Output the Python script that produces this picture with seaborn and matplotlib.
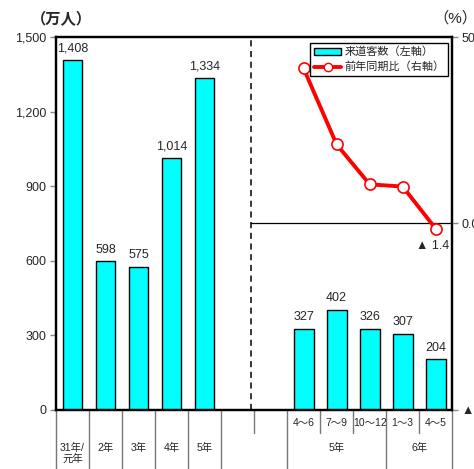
import matplotlib
matplotlib.use("Agg")
import matplotlib.pyplot as plt
import matplotlib.transforms as mtransforms
from matplotlib.lines import Line2D
from matplotlib.patches import Patch
import numpy as np
import pandas as pd
import seaborn as sns

sns.set_theme(style="white")
plt.rcParams["font.family"] = ["Liberation Sans", "Noto Sans CJK JP"]

# Visitors (10k persons): annual totals, then quarterly figures
slot_pos = [0, 1, 2, 3, 4, 7, 8, 9, 10, 11]
visitors = [1408, 598, 575, 1014, 1334, 327, 402, 326, 307, 204]
bar_labels = ["1,408", "598", "575", "1,014", "1,334", "327", "402", "326", "307", "204"]

# Year-on-year change (%) for the quarterly figures
line_pos = [7, 8, 9, 10, 11]
yoy_pct = [41.6, 21.2, 10.5, 9.9, -1.4]

sub_labels = ["4～6", "7～9", "10～12", "1～3", "4～5"]
year_labels = ["31年/\n元年", "2年", "3年", "4年", "5年"]
group_labels = ["5年", "6年"]

left_ticks = [0, 300, 600, 900, 1200, 1500]
left_ticklabels = ["0", "300", "600", "900", "1,200", "1,500"]
right_ticks = [-50, 0, 50]
right_ticklabels = ["▲50", "0.0", "50"]

fig = plt.figure(figsize=(4.74, 4.69), dpi=100)
ax = fig.add_axes([0.118, 0.126, 0.836, 0.795])

df = pd.DataFrame({"pos": slot_pos, "visitors": visitors})
sns.barplot(data=df, x="pos", y="visitors", native_scale=True, width=0.6,
            color="#00FFFF", edgecolor="black", linewidth=1.0, saturation=1,
            ax=ax, zorder=2)

ax.set_xlim(-0.5, 11.5)
ax.set_ylim(0, 1500)
ax.set_yticks(left_ticks)
ax.set_yticklabels(left_ticklabels, fontsize=9)
ax.set_xticks([])
ax.set_xlabel("")
ax.set_ylabel("")
ax.tick_params(axis="y", left=True, length=4, width=1, color="#888888", pad=3)
for s in ax.spines.values():
    s.set_color("black")
    s.set_linewidth(1.6)

for x, v, lab in zip(slot_pos, visitors, bar_labels):
    ax.annotate(lab, (x, v), xytext=(0, 4), textcoords="offset points",
                ha="center", va="bottom", fontsize=9)

# Divider between annual and quarterly sections
ax.axvline(5.4, color="black", lw=1.1, ls=(0, (4, 3)), zorder=1)

ax2 = ax.twinx()
ax2.set_ylim(-50, 50)
ax2.set_yticks(right_ticks)
ax2.set_yticklabels(right_ticklabels, fontsize=9)
ax2.tick_params(axis="y", right=True, length=4, width=1, color="#888888", pad=3)
ax2.plot([5.4, 11.5], [0, 0], color="black", lw=0.9, zorder=1)
ldf = pd.DataFrame({"pos": line_pos, "yoy": yoy_pct})
sns.lineplot(data=ldf, x="pos", y="yoy", color="red", lw=2.8, marker="o",
             markersize=8, markerfacecolor="white", markeredgecolor="red",
             markeredgewidth=1.2, ax=ax2, zorder=3)
ax2.set_xlabel("")
ax2.set_ylabel("")
ax2.set_xlim(-0.5, 11.5)
ax2.annotate("▲ 1.4", (line_pos[-1], yoy_pct[-1]), xytext=(-2, -8),
             textcoords="offset points", ha="center", va="top", fontsize=9)
for s in ax2.spines.values():
    s.set_linewidth(1.6)
    s.set_color("black")

# Category table below the axis
trans = mtransforms.blended_transform_factory(ax.transData, ax.transAxes)
long_lines = [-0.5, 0.5, 1.5, 2.5, 3.5, 4.5, 6.5, 9.5, 11.5]
short_lines = [5.5, 7.5, 8.5, 10.5]
for x in long_lines:
    ax.plot([x, x], [0, -0.17], color="#777777", lw=1.0, transform=trans, clip_on=False)
for x in short_lines:
    ax.plot([x, x], [0, -0.062], color="#777777", lw=1.0, transform=trans, clip_on=False)
for x, lab in zip(line_pos, sub_labels):
    ax.text(x, -0.035, lab, transform=trans, ha="center", va="center", fontsize=7.5)
for x, lab in zip([0, 1, 2, 3, 4], year_labels):
    ax.text(x, -0.088, lab, transform=trans, ha="center", va="top", fontsize=7.5,
            linespacing=1.1)
for x, lab in zip([8, 10.5], group_labels):
    ax.text(x, -0.088, lab, transform=trans, ha="center", va="top", fontsize=7.5)

fig.text(0.065, 0.958, "（万人）", fontsize=11, fontweight="bold", ha="left", va="center")
fig.text(0.915, 0.962, "（%）", fontsize=11, ha="left", va="center")

handles = [Patch(facecolor="#00FFFF", edgecolor="black", linewidth=1.0),
           Line2D([0], [0], color="red", lw=2.8, marker="o", markersize=6,
                  markerfacecolor="white", markeredgecolor="red")]
leg = ax2.legend(handles, ["来道客数（左軸）", "前年同期比（右軸）"], loc="upper right",
                 bbox_to_anchor=(0.99, 0.985), fontsize=8, frameon=True, fancybox=False,
                 edgecolor="black", framealpha=1, handlelength=2.4, handleheight=0.6,
                 borderpad=0.35, labelspacing=0.4, handletextpad=0.3, borderaxespad=0)
leg.get_frame().set_linewidth(1.0)

fig.savefig("out.png", dpi=100)
